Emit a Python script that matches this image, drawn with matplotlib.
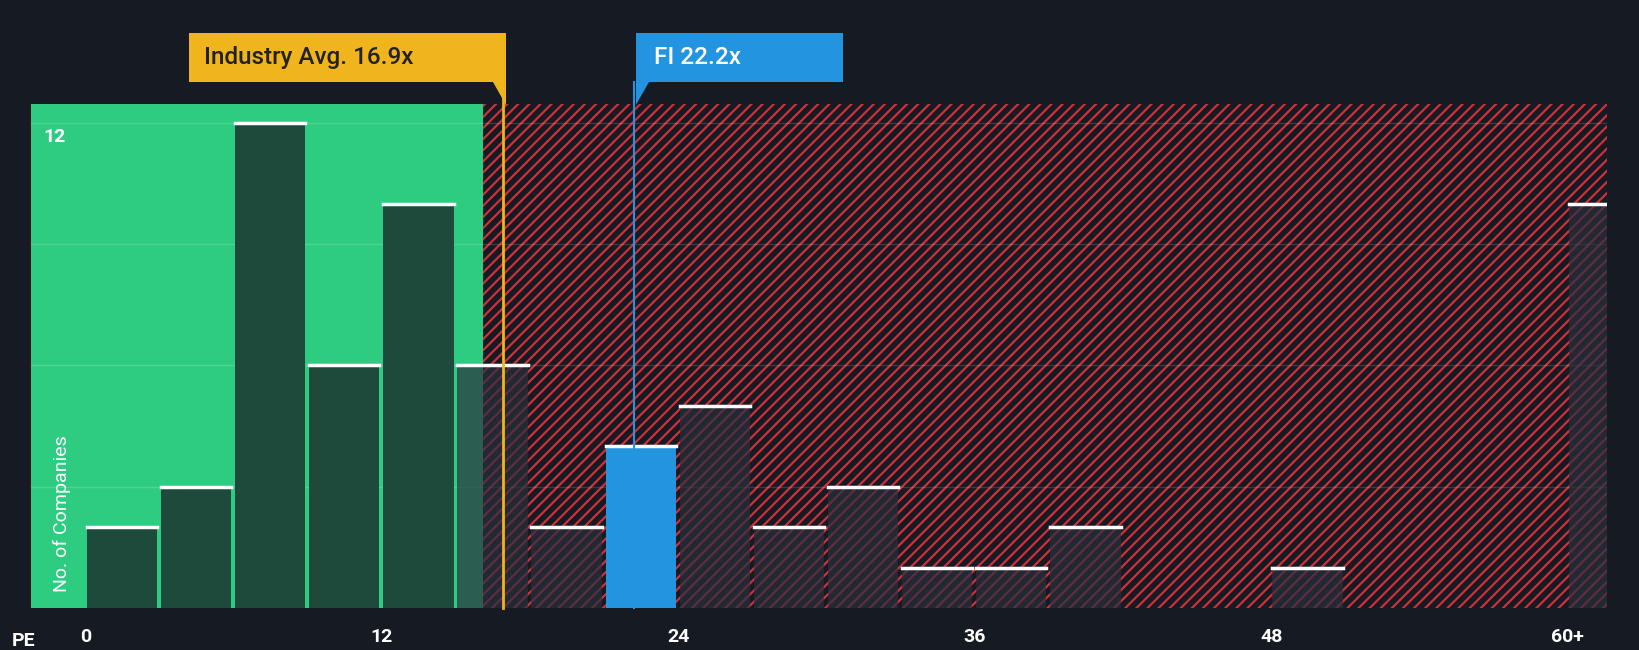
import matplotlib
matplotlib.use("Agg")
import matplotlib.pyplot as plt
from matplotlib.patches import Rectangle, Polygon
import numpy as np

bin_starts = [0, 3, 6, 9, 12, 15, 18, 21, 24, 27, 30, 33, 36, 39, 48, 60]
counts     = [2, 3, 12, 6, 10, 6, 2, 4, 5, 2, 3, 1, 1, 2, 1, 10]
tick_vals = [0, 12, 24, 36, 48, 60]
tick_labels = ["0", "12", "24", "36", "48", "60+"]
industry_avg = 16.9
company_pe = 22.2
company = "FI"

plt.rcParams['font.family'] = ['Roboto', 'DejaVu Sans']
plt.rcParams['hatch.linewidth'] = 1.6
BG = "#151a23"
fig = plt.figure(figsize=(16.4, 6.5), dpi=100, facecolor=BG)
ax = fig.add_axes([0.019, 0.0644, 0.961, 0.775])
ax.set_facecolor(BG)
xmin, xmax = -2.2, 61.6
ymax = 12.45
ax.set_xlim(xmin, xmax); ax.set_ylim(0, ymax)
split = 16.1
ax.add_patch(Rectangle((xmin, 0), split - xmin, ymax, color="#2ecc80", zorder=0))
ax.add_patch(Rectangle((split, 0), xmax - split, ymax, facecolor=BG, edgecolor="#d0303a",
                       hatch="///", linewidth=0, zorder=0))
for g in [3, 6, 9, 12]:
    ax.axhline(g, color="white", alpha=0.15, lw=1, zorder=1)

w = 2.85
for s, c in zip(bin_starts, counts):
    if s <= company_pe < s + 3:
        col, a = "#2394e0", 1
    elif s + 1.5 < split:
        col, a = "#1e4a3c", 1
    else:
        col, a = "#2a2f3d", 0.7
    ax.bar(s + 0.05, c, width=w, align="edge", color=col, alpha=a, zorder=2)
    ax.plot([s + 0.05, s + 0.05 + w], [c, c], color="white", lw=2.5, zorder=3)

ytop = 13.0
ax.plot([industry_avg]*2, [0, ytop], color="#f0b41c", lw=2, zorder=4, clip_on=False)
ax.plot([company_pe]*2, [0, ytop], color="#2394e0", lw=1.5, zorder=4, clip_on=False)

for sp in ax.spines.values(): sp.set_visible(False)
ax.set_yticks([])
ax.set_xticks(tick_vals)
ax.set_xticklabels(tick_labels, color="white", fontsize=14, fontweight="bold")
ax.tick_params(axis="x", length=0, pad=14)
ax.text(-0.012, -0.065, "PE", transform=ax.transAxes, color="white", fontsize=14,
        fontweight="bold", ha="left", va="center")
ax.text(-1.7, 11.65, "12", color="white", fontsize=14, fontweight="bold", va="center")
ax.text(-1.3, 0.4, "No. of Companies", color="white", fontsize=14, rotation=90, va="bottom")

# annotation boxes
y0, y1 = 0.874, 0.950
ix0, ix1 = 0.1154, 0.3087
fig.add_artist(Rectangle((ix0, y0), ix1 - ix0, y1 - y0, transform=fig.transFigure, fc="#f0b41c", ec="none"))
fig.add_artist(Polygon([(ix1 - 0.008, y0), (ix1, y0), (ix1, y0 - 0.035)], transform=fig.transFigure, fc="#f0b41c", ec="none"))
fig.text(ix0 + 0.009, (y0 + y1) / 2, "Industry Avg. 16.9x", color="#222222", fontsize=17.5,
         fontweight="medium", va="center")
fx0, fx1 = 0.3878, 0.514
fig.add_artist(Rectangle((fx0, y0), fx1 - fx0, y1 - y0, transform=fig.transFigure, fc="#2394e0", ec="none"))
fig.add_artist(Polygon([(fx0, y0), (fx0 + 0.008, y0), (fx0, y0 - 0.035)], transform=fig.transFigure, fc="#2394e0", ec="none"))
fig.text(fx0 + 0.011, (y0 + y1) / 2, f"{company} 22.2x", color="white", fontsize=17.5,
         fontweight="medium", va="center")
fig.savefig("out.png", facecolor=BG)
